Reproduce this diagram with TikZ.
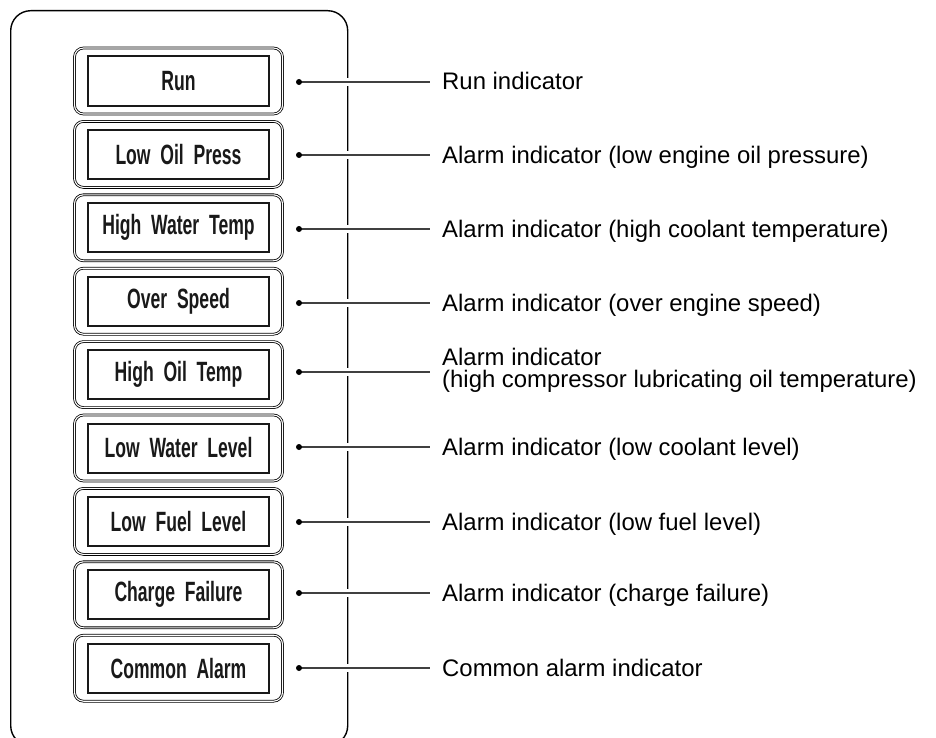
\documentclass[tikz,border=0pt]{standalone}
\usepackage{fontspec}
\usepackage{graphicx}
\setmainfont{Liberation Sans}
\newfontfamily\btnfont[WordSpace=2.0]{Liberation Sans Bold}
\newcommand\btntxt[1]{\scalebox{0.63}[1]{\btnfont\fontsize{28}{28}\selectfont #1}}
\tikzset{
  panel/.style={draw=black, line width=1.4bp, rounded corners=20bp},
  btnouter/.style={draw=black, line width=0.8bp, double=white, double distance=1.1bp, rounded corners=9bp, minimum width=208bp, minimum height=66bp, inner sep=0pt},
  btninner/.style={draw=black!90, line width=2bp, minimum width=181bp, minimum height=49bp, inner sep=0pt, text=black!90},
  leader/.style={draw=black!75, line width=1.2bp, preaction={draw=white, line width=8bp}},
  lab/.style={anchor=base west, inner sep=0pt, font=\fontsize{24}{22}\selectfont, align=left},
  dotmark/.style={fill=black}
}
\begin{document}
\begin{tikzpicture}[x=1bp,y=-1bp]
\useasboundingbox (0,0) rectangle (936,738);
\fill[white] (0,0) rectangle (936,738);
\node[panel, minimum width=337bp, minimum height=735bp, anchor=north west, inner sep=0pt] (panel) at (10,10) {};
% buttons
\node[btnouter] (b1) at (178.5,81) {};
\node[btninner] (i1) at (b1) {\btntxt{Run}};
\node[btnouter] (b2) at (178.5,154.4) {};
\node[btninner] (i2) at (b2) {\btntxt{Low Oil Press}};
\node[btnouter] (b3) at (178.5,227.8) {};
\node[btninner] (i3) at (b3) {\btntxt{High Water Temp}};
\node[btnouter] (b4) at (178.5,301.2) {};
\node[btninner] (i4) at (b4) {\btntxt{Over Speed}};
\node[btnouter] (b5) at (178.5,374.6) {};
\node[btninner] (i5) at (b5) {\btntxt{High Oil Temp}};
\node[btnouter] (b6) at (178.5,448) {};
\node[btninner] (i6) at (b6) {\btntxt{Low Water Level}};
\node[btnouter] (b7) at (178.5,521.4) {};
\node[btninner] (i7) at (b7) {\btntxt{Low Fuel Level}};
\node[btnouter] (b8) at (178.5,594.8) {};
\node[btninner] (i8) at (b8) {\btntxt{Charge Failure}};
\node[btnouter] (b9) at (178.5,668.2) {};
\node[btninner] (i9) at (b9) {\btntxt{Common Alarm}};
% dots and leader ends
\foreach \k/\y in {1/82,2/155,3/229,4/303,5/372,6/447,7/522,8/593,9/668}{
  \coordinate (d\k) at (299,\y);
  \coordinate (e\k) at (430,\y);
}
% labels
\node[lab] (l1) at (442,90) {Run indicator};
\node[lab] (l2) at (442,163) {Alarm indicator (low engine oil pressure)};
\node[lab] (l3) at (442,237) {Alarm indicator (high coolant temperature)};
\node[lab] (l4) at (442,311) {Alarm indicator (over engine speed)};
\node[lab] (l5) at (442,387) {Alarm indicator\\(high compressor lubricating oil temperature)};
\node[lab] (l6) at (442,455) {Alarm indicator (low coolant level)};
\node[lab] (l7) at (442,530) {Alarm indicator (low fuel level)};
\node[lab] (l8) at (442,601) {Alarm indicator (charge failure)};
\node[lab] (l9) at (442,676) {Common alarm indicator};
\foreach \k in {1,...,9}{
  \draw[leader] (d\k) -- (e\k);
  \fill[dotmark] (d\k) circle (3bp);
}
\end{tikzpicture}
\end{document}
